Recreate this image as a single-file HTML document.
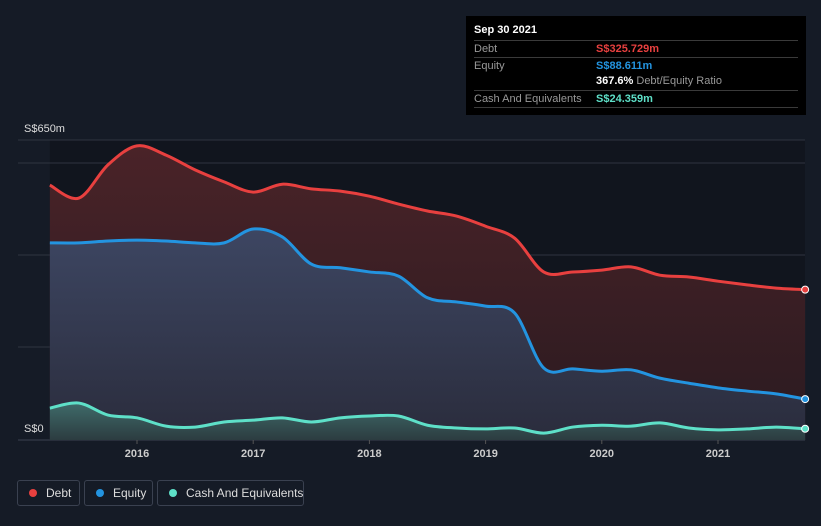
<!DOCTYPE html>
<html><head><meta charset="utf-8"><style>
body{margin:0;background:#151b26;width:821px;height:526px;overflow:hidden;font-family:"Liberation Sans",sans-serif}
svg{position:absolute;left:0;top:0}
.tt{position:absolute;left:466px;top:16px;width:340px;height:99px;background:#000;color:#fff;font-size:11px}
.tt .r{position:absolute;left:8px;width:324px;border-top:1px solid #3a3a3a;height:16px;line-height:16px;color:#999}
.tt .v{position:absolute;left:122px;font-weight:bold}
.leg{position:absolute;top:480px;height:26px;border:1px solid #3a4150;border-radius:3px;color:#ddd;font-size:12px;line-height:24px;box-sizing:border-box;padding-left:28px;white-space:nowrap}
.leg i{position:absolute;left:11px;top:8px;width:8px;height:8px;border-radius:50%}
</style></head><body>
<svg width="821" height="526" id="c"></svg>
<div class="tt">
<div style="position:absolute;left:8px;top:8px;font-weight:bold;font-size:11px">Sep 30 2021</div>
<div class="r" style="top:24px">Debt<span class="v" style="color:#e8403f">S$325.729m</span></div>
<div class="r" style="top:41px">Equity<span class="v" style="color:#2394e0">S$88.611m</span></div>
<div class="r" style="top:57px;border-top:none"><span class="v" style="color:#fff">367.6% <span style="color:#999;font-weight:normal">Debt/Equity Ratio</span></span></div>
<div class="r" style="top:74px;border-bottom:1px solid #3a3a3a">Cash And Equivalents<span class="v" style="color:#5ee0c8">S$24.359m</span></div>
</div>
<div class="leg" style="left:17px;width:63px"><i style="background:#e8403f"></i>Debt</div>
<div class="leg" style="left:84px;width:69px"><i style="background:#2394e0"></i>Equity</div>
<div class="leg" style="left:157px;width:147px"><i style="background:#5ee0c8"></i>Cash And Equivalents</div>
<script>
const dates=[2015.25,2015.5,2015.75,2016,2016.25,2016.5,2016.75,2017,2017.25,2017.5,2017.75,2018,2018.25,2018.5,2018.75,2019,2019.25,2019.5,2019.75,2020,2020.25,2020.5,2020.75,2021,2021.25,2021.5,2021.75];
const debt=[552,524,596,637,617,585,559,537,554,544,539,528,511,496,485,463,437,364,364,368,375,357,353,344,336,329,325.7];
const equity=[427,427,431,433,431,427,427,457,440,381,373,364,355,308,299,290,275,156,154,149,152,134,123,113,106,100,88.6];
const cash=[69,80,54,48,30,28,39,43,48,39,48,52,52,32,26,24,26,15,28,32,30,37,26,22,24,28,24.4];
const yearTicks=[2016,2017,2018,2019,2020,2021];
const yLabels=[{v:650,t:"S$650m"},{v:0,t:"S$0"}];
const NS="http://www.w3.org/2000/svg",svg=document.getElementById('c');
const X=d=>137+(d-2016)*116.2, Y=v=>440-v*0.4617;
function el(t,a,p){const e=document.createElementNS(NS,t);for(const k in a)e.setAttribute(k,a[k]);(p||svg).appendChild(e);return e}
el('rect',{x:X(dates[0]),y:140,width:805-X(dates[0]),height:300,fill:'#11151e'});
const defs=el('defs',{});
function grad(id,c1,o1,c2,o2){const g=el('linearGradient',{id,x1:0,y1:0,x2:0,y2:1},defs);el('stop',{offset:0,'stop-color':c1,'stop-opacity':o1},g);el('stop',{offset:1,'stop-color':c2,'stop-opacity':o2},g)}
grad('gd','#4a2328',1,'#2a1a20',1);grad('ge','#3d4662',1,'#2a2c3c',1);grad('gc','#3f6b6a',1,'#2c3c40',1);
[140,163,255,347,440].forEach((y,i)=>{const l=el('line',{x1:18,x2:805,y1:y,y2:y,stroke:i==4?'#3a4150':'#2e3440','stroke-width':1});});
function path(vals){const p=dates.map((d,i)=>[X(d),Y(vals[i])]);let s=`M${p[0][0]},${p[0][1]}`;for(let i=0;i<p.length-1;i++){const a=p[i-1]||p[i],b=p[i],c=p[i+1],d=p[i+2]||c;s+=`C${b[0]+(c[0]-a[0])/6},${b[1]+(c[1]-a[1])/6} ${c[0]-(d[0]-b[0])/6},${c[1]-(d[1]-b[1])/6} ${c[0]},${c[1]}`}return s}
function series(vals,col,g,name){const s=path(vals);const a=el('path',{d:s+`L${X(dates[dates.length-1])},440L${X(dates[0])},440Z`,fill:`url(#${g})`});
const l=el('path',{d:s,fill:'none',stroke:col,'stroke-width':3});
const c=el('circle',{cx:X(dates[dates.length-1]),cy:Y(vals[vals.length-1]),r:3.5,fill:col,stroke:'#fff','stroke-width':1});}
series(debt,'#e8403f','gd','debt');series(equity,'#2394e0','ge','equity');series(cash,'#5ee0c8','gc','cash');
yearTicks.forEach(y=>{const t=el('text',{x:X(y),y:457,fill:'#ccc','font-size':11,'text-anchor':'middle','font-weight':'bold'});t.textContent=y;el('line',{x1:X(y),x2:X(y),y1:440,y2:444,stroke:'#555'})});
yLabels.forEach(o=>{const t=el('text',{x:24,y:o.v?132:432,fill:'#ddd','font-size':11});t.textContent=o.t;});
</script>
</body></html>
